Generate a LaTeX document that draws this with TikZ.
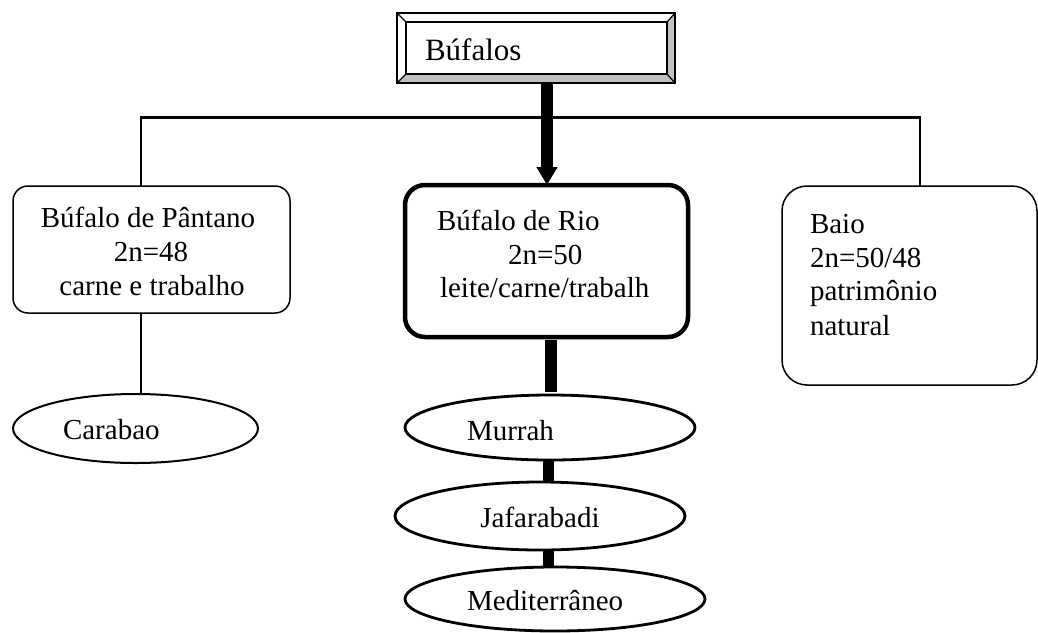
\documentclass[tikz,border=0pt]{standalone}
\usepackage{fontspec}
\setmainfont{Liberation Serif}
\usetikzlibrary{shapes.geometric,arrows.meta,calc}
\definecolor{bevelgray}{RGB}{192,192,192}
\begin{document}
\begin{tikzpicture}[x=1pt,y=-1pt,
  every node/.style={inner sep=0pt,outer sep=0pt},
  txt/.style={font=\fontsize{29}{34}\selectfont,anchor=base west},
  ctxt/.style={font=\fontsize{29}{34}\selectfont,anchor=base},
  thinbox/.style={draw,line width=1.5pt,rounded corners=15pt},
  thickbox/.style={draw,line width=4.5pt,rounded corners=20pt},
  breed/.style={draw,ellipse,line width=2.8pt},
  thinlink/.style={line width=1.8pt},
  heavylink/.style={line width=12pt}
]
\useasboundingbox (0,0) rectangle (1038,632);

% top box with bevelled frame
\node[minimum width=278pt,minimum height=70pt] (bufalos) at (536,48) {};
\coordinate (inw) at ($(bufalos.north west)+(9,9)$);
\coordinate (ine) at ($(bufalos.north east)+(-8,9)$);
\coordinate (isw) at ($(bufalos.south west)+(9,-9)$);
\coordinate (ise) at ($(bufalos.south east)+(-8,-9)$);
\fill[bevelgray] (bufalos.north east) -- (bufalos.south east) -- (bufalos.south west) -- (isw) -- (ise) -- (ine) -- cycle;
\draw[line width=1.5pt] (bufalos.north west) rectangle (bufalos.south east);
\draw[line width=1.5pt] (inw) rectangle (ise);
\draw[line width=1.2pt] (bufalos.north west) -- (inw) (bufalos.north east) -- (ine)
  (bufalos.south west) -- (isw) (bufalos.south east) -- (ise);
\node[txt,font=\fontsize{31}{36}\selectfont] (tbufalos) at (425,60) {Búfalos};

% second level boxes
\node[thinbox,minimum width=277pt,minimum height=127pt] (pantano) at (151.5,249.5) {};
\node[ctxt] (p1) at (148,227) {Búfalo de Pântano};
\node[ctxt] (p2) at (151,261) {2n=48};
\node[ctxt] (p3) at (152,295) {carne e trabalho};

\node[thickbox,minimum width=283pt,minimum height=152pt] (rio) at (546.5,261) {};
\node[txt] (r1) at (437,230) {Búfalo de Rio};
\node[txt] (r2) at (508,264) {2n=50};
\node[txt] (r3) at (440,297) {leite/carne/trabalh};

\node[thinbox,rounded corners=25pt,minimum width=255pt,minimum height=199pt] (baio) at (909.5,285.5) {};
\node[txt] (b1) at (810,233) {Baio};
\node[txt] (b2) at (810,267) {2n=50/48};
\node[txt] (b3) at (810,300) {patrimônio};
\node[txt] (b4) at (810,335) {natural};

% breeds
\node[draw,ellipse,line width=2pt,minimum width=245pt,minimum height=69pt] (carabao) at (135.5,428.5) {};
\node[txt] (tcarabao) at (63,439) {Carabao};

\node[breed,minimum width=290pt,minimum height=65pt] (murrah) at (550,427.5) {};
\node[txt] (tmurrah) at (467,440) {Murrah};

\node[breed,minimum width=290pt,minimum height=68pt] (jafarabadi) at (540,516) {};
\node[ctxt] (tjafarabadi) at (540,527) {Jafarabadi};

\node[breed,minimum width=300pt,minimum height=64pt] (mediterraneo) at (555,599) {};
\node[txt] (tmediterraneo) at (467,610) {Mediterrâneo};

% connectors
\coordinate (axis) at (547,0);
\coordinate (bar) at (0,117.5);
\coordinate (lx) at (141,0);
\coordinate (rx) at (920,0);
\coordinate (mx) at (551,0);
\coordinate (bx) at (548,0);

\draw[line width=3.5pt] (bar -| lx) -- (bar -| rx);
\draw[thinlink] ($(bar -| lx)+(0,-1.75)$) -- (pantano.north -| lx);
\draw[thinlink] ($(bar -| rx)+(0,-1.75)$) -- (baio.north -| rx);
\draw[heavylink,-{Triangle[width=20pt,length=18pt]}] (bufalos.south -| axis) -- (rio.north -| axis);
\draw[thinlink] (pantano.south -| lx) -- (carabao.north -| lx);
\draw[heavylink] ($(rio.south -| mx)+(0,3)$) -- ($(murrah.north -| mx)+(0,-3)$);
\draw[line width=11pt] (murrah.south -| bx) -- (jafarabadi.north -| bx);
\draw[line width=11pt] (jafarabadi.south -| bx) -- (mediterraneo.north -| bx);
\end{tikzpicture}
\end{document}
